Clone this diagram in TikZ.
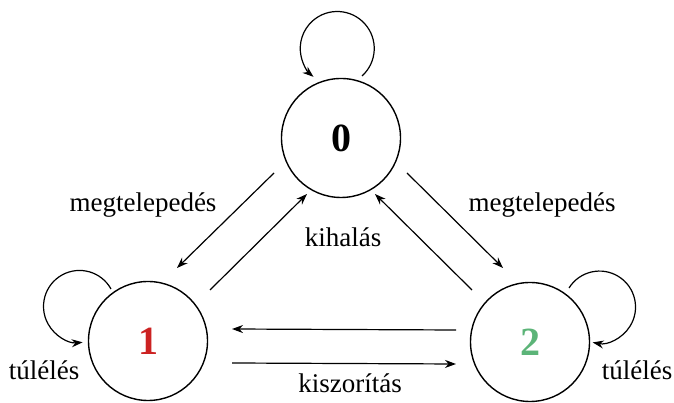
\documentclass[tikz,border=0pt]{standalone}
\usepackage{fontspec}
\setmainfont{Liberation Serif}
\usetikzlibrary{arrows.meta,calc}
\definecolor{redone}{RGB}{204,34,34}
\definecolor{greentwo}{RGB}{92,180,120}
\begin{document}
\begin{tikzpicture}[x=1pt,y=1pt,
  state/.style={circle,draw,line width=1.4pt,minimum size=119pt,inner sep=0pt,font=\fontsize{40}{40}\selectfont\bfseries},
  conn/.style={line width=1.2pt,-{Stealth[length=11pt,width=8pt]}},
  lbl/.style={anchor=base,inner sep=0pt,font=\fontsize{27}{27}\selectfont}]
\useasboundingbox (0,0) rectangle (674,403);
\node[state] (n0) at (341,265) {0};
\node[state,text=redone] (n1) at (148,62) {1};
\node[state,text=greentwo] (n2) at (530,61) {2};
% straight connector endpoints
\coordinate (a01s) at ($(n0)+(-67,-35)$);
\coordinate (a01e) at ($(n1)+(29,73)$);
\coordinate (a10s) at ($(n1)+(62,51)$);
\coordinate (a10e) at ($(n0)+(-34,-56)$);
\coordinate (a02s) at ($(n0)+(66,-35)$);
\coordinate (a02e) at ($(n2)+(-27,74)$);
\coordinate (a20s) at ($(n2)+(-58,52)$);
\coordinate (a20e) at ($(n0)+(34,-56)$);
\coordinate (a21s) at ($(n2)+(-74,12)$);
\coordinate (a21e) at ($(n1)+(84,12)$);
\coordinate (a12s) at ($(n1)+(84,-22)$);
\coordinate (a12e) at ($(n2)+(-74,-22)$);
\draw[conn] (a01s) -- (a01e);
\draw[conn] (a10s) -- (a10e);
\draw[conn] (a02s) -- (a02e);
\draw[conn] (a20s) -- (a20e);
\draw[conn] (a21s) -- (a21e);
\draw[conn] (a12s) -- (a12e);
% self loops
\coordinate (l0s) at ($(n0)+(21,62)$);
\coordinate (l1s) at ($(n1)+(-37,52)$);
\coordinate (l2s) at ($(n2)+(39,54)$);
\draw[conn] (l0s) arc[start angle=-48,end angle=230,radius=37];
\draw[conn] (l1s) arc[start angle=29,end angle=275,radius=36];
\draw[conn] (l2s) arc[start angle=148,end angle=-101,radius=36];
% labels
\node[lbl] (m1) at (143,191) {megtelepedés};
\node[lbl] (m2) at (542,191) {megtelepedés};
\node[lbl] (k1) at (343,156) {kihalás};
\node[lbl] (k2) at (350,10) {kiszorítás};
\node[lbl] (t1) at (44,23) {túlélés};
\node[lbl] (t2) at (637,23) {túlélés};
\end{tikzpicture}
\end{document}
